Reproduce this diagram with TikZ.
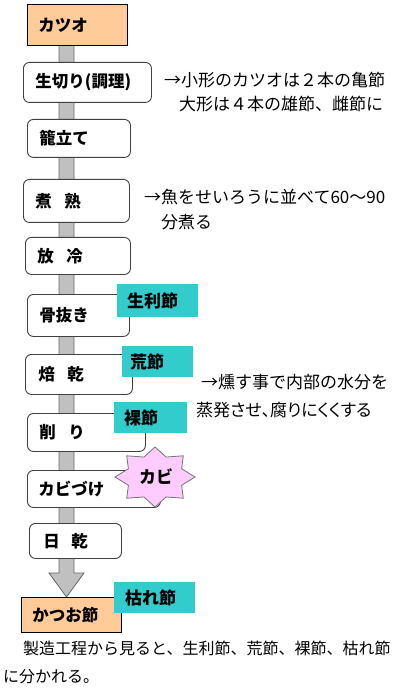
\documentclass[tikz,border=0pt]{standalone}
\usepackage{fontspec}
\setmainfont{Noto Sans CJK JP}
\newfontfamily\jpp[RawFeature=+palt]{Noto Sans CJK JP}
\definecolor{orng}{HTML}{FFCC99}
\definecolor{teal2}{HTML}{33CCCC}
\definecolor{pnk}{HTML}{FFCCFF}
\definecolor{barfill}{HTML}{C0C0C0}
\begin{document}
\begin{tikzpicture}[x=1pt,y=-1pt,
  base/.style={anchor=north west, inner ysep=0pt, align=left, font=\fontsize{16.5pt}{18pt}\selectfont\bfseries},
  proc/.style={base, draw=black!75, line width=0.9pt, fill=white, rounded corners=6pt},
  endbox/.style={base, draw=black, line width=0.8pt, fill=orng},
  tag/.style={base, fill=teal2, font=\fontsize{17pt}{18pt}\selectfont\bfseries},
  note/.style={anchor=west, inner sep=0pt, font=\fontsize{17pt}{20pt}\selectfont},
  bottom/.style={anchor=west, inner sep=0pt, font=\fontsize{16pt}{20pt}\selectfont}]
\useasboundingbox (0,0) rectangle (400,692);
% gray flow bar with arrow head
\draw[fill=barfill, draw=black!60, line width=0.8pt]
  (59,45) -- (74,45) -- (74,573) -- (84,573) -- (66.5,597) -- (49,573) -- (59,573) -- cycle;
% boxes
\node[endbox, minimum height=41pt, inner xsep=11pt, text width=78pt] (katsuo) at (27,4) {カツオ};
\node[proc, minimum height=40pt, inner xsep=12pt, text width=104pt] (b1) at (23,62) {生切り(調理)};
\node[proc, minimum height=38pt, inner xsep=12pt, text width=79pt] (b2) at (27,119) {籠立て};
\node[proc, minimum height=43pt, inner xsep=12pt, text width=82pt] (b3) at (23,179) {煮\hspace{0.75em}熟};
\node[proc, minimum height=37pt, inner xsep=12pt, text width=81pt] (b4) at (25,237) {放\hspace{0.75em}冷};
\node[proc, minimum height=42pt, inner xsep=12pt, text width=78pt] (b5) at (27,294) {骨抜き};
\node[proc, minimum height=40pt, inner xsep=13pt, text width=81pt] (b6) at (25,354) {焙\hspace{0.75em}乾};
\node[proc, minimum height=38pt, inner xsep=12pt, text width=94pt] (b7) at (27,413) {削\hspace{0.75em}り};
\node[proc, minimum height=37pt, inner xsep=11pt, text width=111pt] (b8) at (27,470) {カビづけ};
\node[proc, minimum height=35pt, inner xsep=14pt, text width=64pt] (b9) at (29,523) {日\hspace{0.7em}乾};
\node[endbox, minimum height=35pt, inner xsep=11pt, text width=78pt] (kfin) at (21,597) {かつお節};
% tags
\node[tag, minimum height=33pt, inner xsep=10pt, text width=61pt] (t1) at (117,284) {生利節};
\node[tag, minimum height=31pt, inner xsep=8pt, text width=55pt] (t2) at (122,346) {荒節};
\node[tag, minimum height=31pt, inner xsep=10pt, text width=53pt] (t3) at (114,402) {裸節};
\node[tag, minimum height=31pt, inner xsep=11pt, text width=59pt] (t4) at (114,582) {枯れ節};
% star
\draw[fill=pnk, draw=black!55, line width=0.8pt]
  plot[samples at={0,...,15}, variable=\k]
  ({155+40*(1-0.28*mod(\k,2))*cos(\k*22.5)}, {477+30*(1-0.28*mod(\k,2))*sin(\k*22.5)}) -- cycle;
\node[font=\fontsize{17pt}{18pt}\selectfont\bfseries, inner sep=0pt] (kabi) at (156,477) {カビ};
% notes
\node[note] (n1) at (164,80) {→小形のカツオは２本の亀節};
\node[note] (n2) at (179,104) {大形は４本の雄節、雌節に};
\node[note] (n3) at (144,197) {→魚をせいろうに並べて60～90};
\node[note] (n4) at (161,222) {分煮る};
\node[note] (n5) at (201,382) {→燻す事で内部の水分を};
\node[note] (n6) at (196,410) {\jpp 蒸発させ、腐りにくくする};
\node[bottom] (s1) at (7,648) {　製造工程から見ると、生利節、荒節、裸節、枯れ節};
\node[bottom] (s2) at (3,677) {に分かれる。};
\end{tikzpicture}
\end{document}
